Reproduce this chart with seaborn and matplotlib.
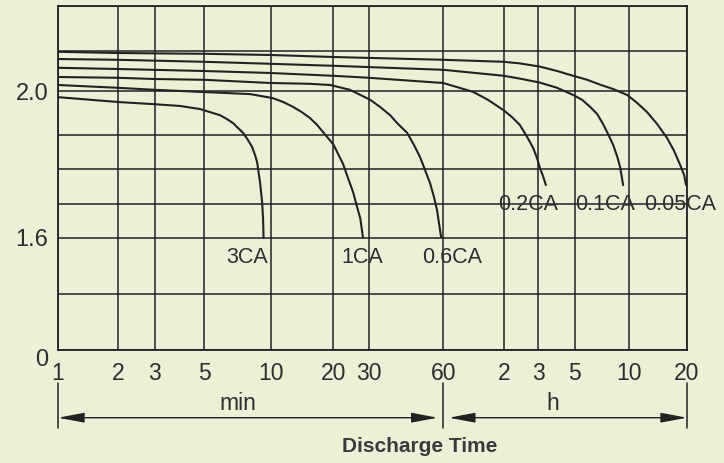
import numpy as np
import pandas as pd
import matplotlib
matplotlib.use("Agg")
import matplotlib.pyplot as plt
import matplotlib.transforms as mtransforms
import seaborn as sns

# ---------------- data ----------------
rates = ["3CA", "1CA", "0.6CA", "0.2CA", "0.1CA", "0.05CA"]

# discharge time in minutes, cell voltage in volts
t_3ca = [1, 2, 3, 3.9, 4.79, 5.9, 6.35, 6.76, 7.5, 7.9, 8.24, 8.5, 8.68, 8.95, 9.15, 9.24, 9.29]
v_3ca = [1.986, 1.975, 1.970, 1.966, 1.959, 1.945, 1.936, 1.927, 1.905, 1.885, 1.865, 1.841,
         1.821, 1.763, 1.706, 1.659, 1.600]

t_1ca = [1, 2, 3, 4.79, 8.07, 10.2, 11.5, 12.8, 14.1, 15.4, 16.7, 17.8, 18.9, 20.0, 22.3,
         23.6, 25.0, 26.0, 27.1, 28.0]
v_1ca = [2.015, 2.008, 2.003, 1.998, 1.993, 1.984, 1.975, 1.964, 1.952, 1.939, 1.923, 1.907,
         1.890, 1.872, 1.815, 1.774, 1.734, 1.697, 1.659, 1.600]

t_06ca = [1, 2, 3, 5, 10, 15.4, 19.3, 24.1, 30.3, 33.2, 36.5, 39.3, 42.8, 45.6, 48.3, 50.6,
          53.0, 55.0, 56.6, 58.8]
v_06ca = [2.035, 2.033, 2.030, 2.028, 2.020, 2.018, 2.015, 2.003, 1.980, 1.964, 1.945, 1.925,
          1.905, 1.871, 1.835, 1.797, 1.760, 1.720, 1.682, 1.603]

t_02ca = [1, 2, 5, 10, 20, 30, 60, 84.4, 100, 119, 132, 145, 158, 170, 178, 185, 193, 201]
v_02ca = [2.058, 2.055, 2.050, 2.045, 2.038, 2.033, 2.020, 1.998, 1.980, 1.957, 1.941, 1.923,
          1.895, 1.862, 1.832, 1.803, 1.780, 1.754]

t_01ca = [1, 2, 5, 10, 20, 60, 120, 145, 185, 235, 294, 330, 365, 399, 430, 459, 489, 514,
          534, 555]
v_01ca = [2.080, 2.078, 2.073, 2.068, 2.063, 2.053, 2.038, 2.031, 2.021, 2.008, 1.991, 1.980,
          1.964, 1.948, 1.925, 1.902, 1.871, 1.838, 1.806, 1.754]

t_005ca = [1, 2, 5, 10, 20, 60, 120, 145, 185, 235, 294, 352, 414, 495, 584, 659, 743, 838,
           945, 1028, 1105, 1159, 1187]
v_005ca = [2.098, 2.095, 2.093, 2.090, 2.085, 2.078, 2.073, 2.069, 2.061, 2.050, 2.038, 2.028,
           2.016, 2.004, 1.991, 1.973, 1.952, 1.925, 1.891, 1.853, 1.812, 1.783, 1.754]

series_t = [t_3ca, t_1ca, t_06ca, t_02ca, t_01ca, t_005ca]
series_v = [v_3ca, v_1ca, v_06ca, v_02ca, v_01ca, v_005ca]

x_ticks = [1, 2, 3, 5, 10, 20, 30, 60, 120, 180, 300, 600, 1200]
x_labels = ["1", "2", "3", "5", "10", "20", "30", "60", "2", "3", "5", "10", "20"]
y_ticks = [0, 0.8, 1.6, 1.7, 1.8, 1.9, 2.0, 2.1, 2.2]
y_labels = ["0", "", "1.6", "", "", "", "2.0", "", ""]

# ---------------- layout (non-uniform axis spacing of the printed grid) ----------------
x_pos = [0, 59.9, 96.5, 146.1, 212.6, 275.4, 311.1, 385.2, 445.8, 479.9, 516.5, 571.2, 628.9]
y_pos = [0, 56, 112, 146, 181, 215, 259, 299, 344]

log_xt = np.log10(x_ticks)


def x_fwd(v):
    v = np.asarray(v, dtype=float)
    with np.errstate(all="ignore"):
        return np.interp(np.log10(np.clip(v, 1e-9, None)), log_xt, x_pos)


def x_inv(p):
    return 10 ** np.interp(np.asarray(p, dtype=float), x_pos, log_xt)


def y_fwd(v):
    return np.interp(np.asarray(v, dtype=float), y_ticks, y_pos)


def y_inv(p):
    return np.interp(np.asarray(p, dtype=float), y_pos, y_ticks)


BG = "#EDEFD6"
INK = "#222222"
TXT = "#2E2E2E"

sns.set_style("white")
plt.rcParams["font.family"] = ["Liberation Sans", "DejaVu Sans"]

fig = plt.figure(figsize=(7.24, 4.63), dpi=100, facecolor=BG)
ax = fig.add_axes([58 / 724, 1 - 350 / 463, 629 / 724, 344 / 463])
ax.set_facecolor(BG)

df = pd.concat(
    [pd.DataFrame({"t": t, "v": v, "rate": r}) for t, v, r in zip(series_t, series_v, rates)],
    ignore_index=True,
)
sns.lineplot(
    data=df, x="t", y="v", hue="rate", palette={r: INK for r in rates},
    sort=False, estimator=None, legend=False, linewidth=1.5, ax=ax, zorder=3,
)
for ln in ax.lines:
    ln.set_solid_joinstyle("round")
    ln.set_solid_capstyle("round")

ax.set_xscale("function", functions=(x_fwd, x_inv))
ax.set_yscale("function", functions=(y_fwd, y_inv))
ax.set_xlim(1, 1200)
ax.set_ylim(0, 2.2)
ax.set_xticks(x_ticks, labels=x_labels)
ax.set_yticks(y_ticks, labels=y_labels)
ax.minorticks_off()
ax.grid(True, color=INK, linewidth=1.1, zorder=1)
ax.set_axisbelow(True)
ax.tick_params(axis="x", length=0, pad=8.5, labelsize=16.5, labelcolor=TXT)
ax.tick_params(axis="y", length=0, pad=7, labelsize=17, labelcolor=TXT)
ax.set_xlabel("")
ax.set_ylabel("")
for s in ax.spines.values():
    s.set_color(INK)
    s.set_linewidth(1.3)

# the "0" label sits slightly below the bottom line in the reference
zero_lbl = ax.yaxis.get_major_ticks()[0].label1
zero_lbl.set_transform(zero_lbl.get_transform()
                       + mtransforms.ScaledTranslation(0, -0.07, fig.dpi_scale_trans))

# curve labels
label_xy = [(0.300, 0.270), (0.483, 0.270), (0.626, 0.270),
            (0.747, 0.422), (0.870, 0.422), (0.989, 0.422)]
for r, (lx, ly) in zip(rates, label_xy):
    ax.text(lx, ly, r, transform=ax.transAxes, ha="center", va="center",
            fontsize=15.5, color=TXT, clip_on=False, zorder=4)

# min / h dimension arrows below the axis
y_arrow = -(417.7 - 350) / 344
for xv in (1, 60, 1200):
    ax.axvline(xv, ymin=-(428 - 350) / 344, ymax=-(383 - 350) / 344,
               color=INK, linewidth=1.1, clip_on=False)
arrow_style = dict(arrowstyle="<|-|>,head_length=1.6,head_width=0.3",
                   color=INK, lw=1.0, mutation_scale=10)
ax.annotate("", xy=(60, y_arrow), xytext=(1, y_arrow),
            xycoords=("data", "axes fraction"), textcoords=("data", "axes fraction"),
            arrowprops=dict(**arrow_style, shrinkA=0, shrinkB=4), annotation_clip=False)
ax.annotate("", xy=(1200, y_arrow), xytext=(60, y_arrow),
            xycoords=("data", "axes fraction"), textcoords=("data", "axes fraction"),
            arrowprops=dict(**arrow_style, shrinkA=4, shrinkB=0), annotation_clip=False)

ax.text((238 - 58) / 629, -(403 - 350) / 344, "min", transform=ax.transAxes,
        ha="center", va="center", fontsize=16.5, color=TXT)
ax.text((553 - 58) / 629, -(403 - 350) / 344, "h", transform=ax.transAxes,
        ha="center", va="center", fontsize=16.5, color=TXT)
ax.text((420 - 58) / 629, -(446 - 350) / 344, "Discharge Time", transform=ax.transAxes,
        ha="center", va="center", fontsize=15, fontweight="bold", color="#3a3a3a")

fig.savefig("out.png", dpi=100, facecolor=BG)
